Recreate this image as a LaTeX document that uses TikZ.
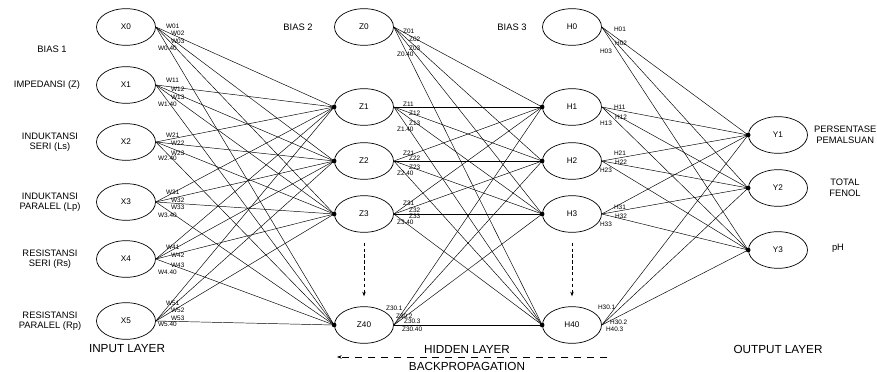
\documentclass[tikz,border=0pt]{standalone}
\usepackage{fontspec}
\setmainfont{Liberation Sans}
\usetikzlibrary{shapes.geometric,arrows.meta}
\begin{document}
\begin{tikzpicture}[x=.03cm,y=-.03cm,line join=round,
  neuron/.style={draw,ellipse,line width=.6pt,minimum width=1.77cm,minimum height=1.1cm,inner sep=0pt,font=\fontsize{7}{8}\selectfont},
  txt/.style={font=\fontsize{8}{9}\selectfont,align=center},
  layer/.style={font=\fontsize{10}{11}\selectfont},
  wgt/.style={font=\fontsize{5.5}{5.5}\selectfont,inner sep=0pt,anchor=west},
  link/.style={line width=.4pt}]
  \useasboundingbox (0,0) rectangle (877,372);
  % neurons
  \foreach \n/\y in {0/27,1/85,2/142,3/202,4/259,5/321}
    \node[neuron] (X\n) at (126,\y) {X\n};
  \foreach \n/\y in {0/27,1/107,2/161,3/214,40/325} {
    \node[neuron] (Z\n) at (364,\y) {Z\n};
    \node[neuron] (H\n) at (572,\y) {H\n};
  }
  \foreach \n/\y in {1/135,2/188,3/250}
    \node[neuron] (Y\n) at (778,\y) {Y\n};
  % connections
  \foreach \s in {0,...,5} \foreach \t in {1,2,3,40}
    \draw[link] (X\s.east) -- (Z\t.west);
  \foreach \s in {0,1,2,3,40} \foreach \t in {1,2,3,40}
    \draw[link] (Z\s.east) -- (H\t.west);
  \foreach \s in {0,1,2,3,40} \foreach \t in {1,2,3}
    \draw[link] (H\s.east) -- (Y\t.west);
  \foreach \t in {1,2,3,40} {
    \fill (Z\t.west) circle (2pt);
    \fill (H\t.west) circle (2pt);
  }
  \foreach \t in {1,2,3} \fill (Y\t.west) circle (2pt);
  % weights
  \foreach \s/\a/\b/\c/\d in {0/-1/6/14/21,1/-5/4/12/19,2/-7/1/11/16,3/-10/-2/5/13,4/-12/-4/6/13,5/-18/-11/-3/3} {
    \node[wgt] (w\s a) at ([shift={(10,\a)}]X\s.east) {W\s1};
    \node[wgt] (w\s b) at ([shift={(15,\b)}]X\s.east) {W\s2};
    \node[wgt] (w\s c) at ([shift={(15,\c)}]X\s.east) {W\s3};
    \node[wgt] (w\s d) at ([shift={(2,\d)}]X\s.east) {W\s.40};
  }
  \foreach \s/\a/\b/\c/\d in {0/4/12/21/27,1/-3/6/16/22,2/-8/-3/6/12,3/-11/-4/2/8} {
    \node[wgt] (z\s a) at ([shift={(9,\a)}]Z\s.east) {Z\s1};
    \node[wgt] (z\s b) at ([shift={(15,\b)}]Z\s.east) {Z\s2};
    \node[wgt] (z\s c) at ([shift={(15,\c)}]Z\s.east) {Z\s3};
    \node[wgt] (z\s d) at ([shift={(3,\d)}]Z\s.east) {Z\s.40};
  }
  \foreach \s/\a/\b/\c in {0/2/16/24,1/0/10/16,2/-8/1/9,3/-7/2/10} {
    \node[wgt] (h\s a) at ([shift={(12,\a)}]H\s.east) {H\s1};
    \node[wgt] (h\s b) at ([shift={(13,\b)}]H\s.east) {H\s2};
    \node[wgt] (h\s c) at ([shift={(-2,\c)}]H\s.east) {H\s3};
  }
  \node[wgt] (z40a) at ([shift={(-8,-17)}]Z40.east) {Z30.1};
  \node[wgt] (z40b) at ([shift={(2,-9)}]Z40.east) {Z30.2};
  \node[wgt] (z40c) at ([shift={(10,-4)}]Z40.east) {Z30.3};
  \node[wgt] (z40d) at ([shift={(8,4)}]Z40.east) {Z30.40};
  \node[wgt] (h40a) at ([shift={(-4,-18)}]H40.east) {H30.1};
  \node[wgt] (h40b) at ([shift={(8,-3)}]H40.east) {H30.2};
  \node[wgt] (h40c) at ([shift={(4,4)}]H40.east) {H40.3};
  % texts
  \node[txt] (b1) at (52,49) {BIAS 1};
  \node[txt] (b2) at (298,27) {BIAS 2};
  \node[txt] (b3) at (512,27) {BIAS 3};
  \node[txt] (i1) at (47,85) {IMPEDANSI (Z)};
  \node[txt] (i2) at (50,142) {INDUKTANSI\\SERI (Ls)};
  \node[txt] (i3) at (50,202) {INDUKTANSI\\PARALEL (Lp)};
  \node[txt] (i4) at (50,259) {RESISTANSI\\SERI (Rs)};
  \node[txt] (i5) at (50,321) {RESISTANSI\\PARALEL (Rp)};
  \node[txt,anchor=west] (o1) at (810,135) {PERSENTASE\\PEMALSUAN};
  \node[txt] (o2) at (845,188) {TOTAL\\FENOL};
  \node[txt] (o3) at (838,248) {pH};
  \node[layer] (l1) at (127,349) {INPUT LAYER};
  \node[layer] (l2) at (467,349) {HIDDEN LAYER};
  \node[layer] (l3) at (778,349) {OUTPUT LAYER};
  \node[layer] (bp) at (467,366) {BACKPROPAGATION};
  % dashed arrows
  \coordinate (bpR) at (607,357);
  \coordinate (bpL) at (337,357);
  \draw[-{Stealth[length=4pt]},line width=.6pt,dash pattern=on 6pt off 5pt] (bpR) -- (bpL);
  \foreach \c in {Z,H} {
    \coordinate (\c top) at ([yshift=-.3cm]\c3.south);
    \draw[-{Stealth[length=4pt]},line width=.6pt,dash pattern=on 3pt off 2pt] (\c top) -- ([yshift=.3cm]\c40.north);
  }
\end{tikzpicture}
\end{document}
